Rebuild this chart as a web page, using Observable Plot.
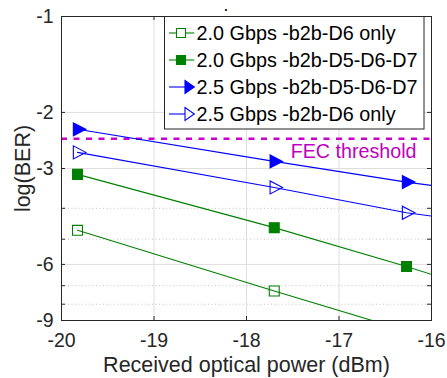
<!DOCTYPE html>
<html><head><meta charset="utf-8">
<script src="https://cdn.jsdelivr.net/npm/d3@7"></script>
<script src="https://cdn.jsdelivr.net/npm/@observablehq/plot@0.6"></script>
<style>
html,body{margin:0;padding:0;background:#fff;}
#chart{position:relative;width:447px;height:378px;}
</style></head><body><div id="chart"></div>
<script>
// ---- data ----
const powers = [-19.827, -17.70, -16.27];
const lineEndPower = -16;
const seriesNames = ["2.0 Gbps -b2b-D6 only", "2.0 Gbps -b2b-D5-D6-D7", "2.5 Gbps -b2b-D5-D6-D7", "2.5 Gbps -b2b-D6 only"];
const ber20D6 = [-4.69, -7.27, -9.7];
const ber20D567 = [-3.13, -4.60, -6.09];
const ber25D567 = [-2.26, -2.85, -3.31];
const ber25D6 = [-2.67, -3.44, -4.13];
const lineEndBer = [-10.3, -6.45, -3.39, -4.23];
const fecThreshold = -2.42;
const fecLabel = "FEC threshold";
const xTicks = [-20, -19, -18, -17, -16];
const xInnerTicks = [-19, -18, -17];
const yTicks = [-1, -2, -3, -6, -9];
const yInnerTicks = [-2, -3, -6];
const yMinorTicks = [-4, -5, -7, -8];
const xLabel = "Received optical power (dBm)";
const yLabel = "log(BER)";
const titleText = ".";

// ---- styles ----
const FONT = "'Liberation Sans', Arial, Helvetica, sans-serif";
const GREEN = "#008000", BLUE = "#0000ff";
const triRight = {
  draw(ctx, size) {
    const r = Math.sqrt(size / Math.PI);
    const w = 2.4 * r, h = 2.5 * r;
    ctx.moveTo(2 * w / 3, 0);
    ctx.lineTo(-w / 3, -h / 2);
    ctx.lineTo(-w / 3, h / 2);
    ctx.closePath();
  }
};
const seriesValues = [ber20D6, ber20D567, ber25D567, ber25D6];
const seriesStyle = [
  {color: GREEN, symbol: "square", filled: false, r: 5.6},
  {color: GREEN, symbol: "square", filled: true, r: 5.6},
  {color: BLUE, symbol: triRight, filled: true, r: 5.2},
  {color: BLUE, symbol: triRight, filled: false, r: 5.2}
];

const W = 447, H = 378, ML = 61, MR = 16, MT = 16, MB = 58;
const FW = W - ML - MR, FH = H - MT - MB;
const TICK = 4;

const lineMarks = [], dotMarks = [];
seriesValues.forEach((vals, i) => {
  const pts = powers.map((p, j) => ({power: p, ber: vals[j]}));
  const linePts = pts.concat([{power: lineEndPower, ber: lineEndBer[i]}]);
  const st = seriesStyle[i];
  lineMarks.push(Plot.line(linePts, {x: "power", y: "ber", stroke: st.color, strokeWidth: 1.1, clip: true}));
  dotMarks.push(Plot.dot(pts, {x: "power", y: "ber", symbol: st.symbol, r: st.r,
    fill: st.filled ? st.color : "none", stroke: st.color, strokeWidth: 1.1, clip: true}));
});

const plot = Plot.plot({
  width: W, height: H,
  marginLeft: ML, marginRight: MR, marginTop: MT, marginBottom: MB,
  style: {fontFamily: FONT, fontSize: "19.5px", color: "#262626", background: "white", overflow: "visible"},
  x: {domain: [-20, -16]},
  y: {type: "log", domain: [-9, -1]},
  marks: [
    Plot.ruleX(xInnerTicks, {stroke: "#dedede", strokeWidth: 1}),
    Plot.ruleY(yInnerTicks, {stroke: "#dedede", strokeWidth: 1}),
    Plot.ruleY(yMinorTicks, {stroke: "#c4c4c4", strokeWidth: 1, strokeDasharray: "1,2.5"}),
    Plot.ruleY([fecThreshold], {stroke: "#cc00cc", strokeWidth: 2.5, strokeDasharray: "6,6.5"}),
    Plot.text([fecLabel], {frameAnchor: "right", y: [fecThreshold], dx: -15, dy: 12.7, textAnchor: "end",
      lineAnchor: "middle", fill: "#c000c0", fontSize: 19.7}),
    ...lineMarks,
    ...dotMarks,
    Plot.tickY(yTicks.concat(yMinorTicks), {insetRight: FW - TICK, stroke: "#262626"}),
    Plot.tickY(yTicks.concat(yMinorTicks), {insetLeft: FW - TICK, stroke: "#262626"}),
    Plot.tickX(xInnerTicks, {insetTop: FH - TICK, stroke: "#262626"}),
    Plot.tickX(xInnerTicks, {insetBottom: FH - TICK, stroke: "#262626"}),
    Plot.axisX(xTicks, {tickSize: 0, tickPadding: 13, label: null, tickFormat: d => String(d), fontSize: 19.5}),
    Plot.axisY(yTicks, {tickSize: 0, tickPadding: 8, label: null, tickFormat: d => String(d), fontSize: 19.5}),
    Plot.text([xLabel], {frameAnchor: "bottom", dy: 45, lineAnchor: "middle", textAnchor: "middle", fontSize: 21.5, fill: "#262626"}),
    Plot.text([yLabel], {frameAnchor: "left", dx: -38, rotate: -90, lineAnchor: "middle", textAnchor: "middle", fontSize: 21.5, fill: "#262626"}),
    Plot.frame({stroke: "#262626", strokeWidth: 1})
  ]
});
document.getElementById("chart").appendChild(plot);

// ---- title & legend ----
const svg = d3.select(plot);
svg.append("text").attr("x", 226).attr("y", 11).attr("text-anchor", "middle")
  .attr("font-family", FONT).attr("font-size", 12).attr("font-weight", "bold").attr("fill", "#000").text(titleText);

const lg = svg.append("g").attr("font-family", FONT).attr("text-anchor", "start");
lg.append("rect").attr("x", 164.5).attr("y", 16.5).attr("width", 259.5).attr("height", 112.5)
  .attr("fill", "white").attr("stroke", "#262626").attr("stroke-width", 1);
seriesNames.forEach((name, i) => {
  const y = 33 + 27 * i;
  const st = seriesStyle[i];
  lg.append("line").attr("x1", 169).attr("x2", 194.3).attr("y1", y).attr("y2", y)
    .attr("stroke", st.color).attr("stroke-width", 1.1);
  let d;
  if (st.symbol === "square") {
    d = `M176.5,${y - 4.5}h9v9h-9Z`;
  } else {
    d = `M185,${y - 6.5}L194.3,${y}L185,${y + 6.5}Z`;
  }
  lg.append("path").attr("d", d).attr("fill", st.filled ? st.color : "white")
    .attr("stroke", st.color).attr("stroke-width", 1.1);
  lg.append("text").attr("x", 196.5).attr("y", y).attr("dy", "0.36em").attr("text-anchor", "start")
    .attr("font-size", 19.8).attr("fill", "#000").text(name);
});
</script>
</body></html>
